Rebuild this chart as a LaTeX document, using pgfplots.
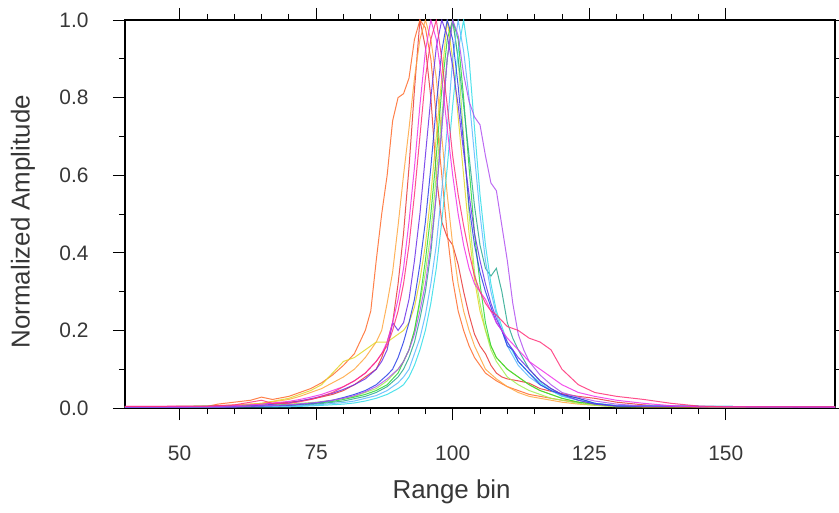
\documentclass[border=0pt]{standalone}
\usepackage{pgfplots}
\pgfplotsset{compat=1.18}
\usepackage{fontspec}
\setmainfont{Liberation Sans}
\definecolor{txt}{RGB}{55,55,55}
\definecolor{cRed}{RGB}{232,56,56}
\definecolor{cOrRed}{RGB}{255,106,42}
\definecolor{cOrange}{RGB}{255,166,64}
\definecolor{cYellow}{RGB}{226,214,40}
\definecolor{cLime}{RGB}{160,238,80}
\definecolor{cGreen}{RGB}{40,216,56}
\definecolor{cTeal}{RGB}{42,168,144}
\definecolor{cCyan}{RGB}{48,221,232}
\definecolor{cSky}{RGB}{90,184,255}
\definecolor{cBlue}{RGB}{42,64,232}
\definecolor{cIndigo}{RGB}{106,48,232}
\definecolor{cViolet}{RGB}{176,80,240}
\definecolor{cMagenta}{RGB}{240,48,232}
\definecolor{cPink}{RGB}{255,48,120}

\begin{document}
\begin{tikzpicture}
\begin{axis}[
  name=ax,
  scale only axis, width=710bp, height=388bp,
  xmin=40, xmax=170, ymin=0, ymax=1,
  xtick={50,75,100,125,150}, minor x tick num=4,
  ytick={0,0.2,0.4,0.6,0.8,1}, minor y tick num=1,
  tick align=outside, major tick length=12bp, minor tick length=6bp,
  every tick/.style={black, line width=0.8bp},
  axis line style={black, line width=1.2bp},
  /pgf/number format/assume math mode=true,
  ticklabel style={font=\fontsize{21}{24}\selectfont, text=txt},
  yticklabel style={/pgf/number format/fixed, /pgf/number format/fixed zerofill,
                    /pgf/number format/precision=1, xshift=-21bp},
  xticklabel style={yshift=-22bp},
  xlabel={Range bin}, ylabel={Normalized Amplitude},
  label style={font=\fontsize{26}{30}\selectfont, text=txt},
  xlabel style={at={([yshift=-68bp]axis description cs:0.46,0)}, anchor=north},
  ylabel style={at={([xshift=-102bp]axis description cs:0,0.48)}, anchor=center, rotate=0},
  every axis plot/.append style={line width=1bp, opacity=0.85},
]
% red
\addplot[cRed] coordinates {(40,0.002)(55,0.002)(60,0.005)(65,0.01)(70,0.015)(74,0.022)(78,0.035)(80,0.045)(82,0.06)(84,0.08)(85,0.09)(86,0.1)(87,0.13)(88,0.17)(89,0.22)(90,0.32)(91,0.45)(92,0.62)(93,0.82)(94,1.0)(95,0.93)(96,0.8)(97,0.6)(98,0.48)(99,0.44)(100,0.42)(101,0.37)(102,0.3)(103,0.24)(104,0.19)(105,0.16)(106,0.14)(107,0.11)(108,0.09)(109,0.08)(110,0.075)(112,0.07)(114,0.064)(116,0.05)(118,0.043)(120,0.037)(123,0.03)(126,0.025)(130,0.015)(135,0.008)(140,0.004)(150,0.002)(170,0.002)};
% orange-red with shoulder
\addplot[cOrRed] coordinates {(40,0.003)(50,0.003)(55,0.004)(57,0.01)(60,0.015)(63,0.02)(65,0.028)(67,0.022)(70,0.03)(72,0.04)(74,0.05)(76,0.065)(78,0.085)(80,0.11)(82,0.14)(83,0.17)(84,0.2)(85,0.25)(86,0.38)(87,0.5)(88,0.6)(89,0.74)(90,0.8)(91,0.81)(92,0.85)(93,0.95)(94,1.0)(95,0.98)(96,0.9)(97,0.75)(98,0.6)(99,0.45)(100,0.33)(101,0.25)(102,0.2)(103,0.16)(104,0.13)(105,0.11)(106,0.09)(108,0.07)(110,0.055)(112,0.045)(114,0.035)(116,0.03)(118,0.025)(120,0.02)(123,0.015)(126,0.01)(130,0.006)(135,0.003)(170,0.002)};
% orange
\addplot[cOrange] coordinates {(40,0.002)(55,0.004)(60,0.008)(65,0.012)(70,0.022)(72,0.03)(74,0.04)(76,0.05)(78,0.065)(80,0.08)(82,0.1)(84,0.13)(85,0.15)(86,0.17)(87,0.2)(88,0.27)(89,0.35)(90,0.47)(91,0.6)(92,0.72)(93,0.85)(94,0.95)(95,1.0)(96,0.95)(97,0.85)(98,0.7)(99,0.55)(100,0.42)(101,0.32)(102,0.25)(103,0.2)(104,0.16)(105,0.13)(106,0.1)(108,0.075)(110,0.055)(112,0.04)(114,0.03)(116,0.025)(118,0.02)(120,0.015)(123,0.01)(126,0.007)(130,0.004)(170,0.002)};
% yellow
\addplot[cYellow] coordinates {(40,0.002)(60,0.006)(65,0.012)(70,0.025)(72,0.035)(74,0.045)(76,0.06)(78,0.09)(80,0.12)(82,0.13)(84,0.15)(86,0.17)(88,0.17)(89,0.18)(90,0.19)(91,0.2)(92,0.22)(93,0.26)(94,0.33)(95,0.42)(96,0.55)(97,0.7)(98,0.85)(99,1.0)(100,0.9)(101,0.75)(102,0.6)(103,0.45)(104,0.33)(105,0.25)(106,0.2)(107,0.16)(108,0.13)(110,0.1)(112,0.08)(114,0.06)(116,0.045)(118,0.035)(120,0.025)(123,0.015)(126,0.01)(130,0.005)(170,0.002)};
% lime
\addplot[cLime] coordinates {(40,0.002)(60,0.004)(70,0.01)(75,0.015)(78,0.02)(80,0.025)(82,0.03)(84,0.04)(86,0.05)(88,0.07)(89,0.085)(90,0.1)(91,0.12)(92,0.15)(93,0.2)(94,0.27)(95,0.35)(96,0.45)(97,0.6)(98,0.75)(99,0.9)(100,1.0)(101,0.9)(102,0.7)(103,0.5)(104,0.35)(105,0.27)(106,0.2)(107,0.15)(108,0.12)(110,0.08)(112,0.06)(114,0.045)(116,0.035)(118,0.025)(120,0.02)(123,0.012)(126,0.007)(130,0.003)(170,0.002)};
% green
\addplot[cGreen] coordinates {(40,0.002)(70,0.008)(75,0.012)(78,0.017)(80,0.022)(82,0.028)(84,0.035)(86,0.045)(88,0.06)(89,0.075)(90,0.09)(91,0.12)(92,0.15)(93,0.2)(94,0.28)(95,0.38)(96,0.5)(97,0.65)(98,0.82)(99,0.95)(100,1.0)(101,0.95)(102,0.8)(103,0.62)(104,0.45)(105,0.32)(106,0.22)(107,0.16)(108,0.13)(110,0.1)(112,0.08)(114,0.06)(116,0.045)(118,0.035)(120,0.025)(123,0.015)(126,0.01)(130,0.005)(170,0.002)};
% teal
\addplot[cTeal] coordinates {(40,0.002)(70,0.006)(75,0.01)(80,0.018)(84,0.03)(86,0.04)(88,0.055)(90,0.08)(91,0.1)(92,0.13)(93,0.17)(94,0.23)(95,0.3)(96,0.4)(97,0.55)(98,0.72)(99,0.9)(100,1.0)(101,0.9)(102,0.78)(103,0.65)(104,0.52)(105,0.42)(106,0.36)(107,0.34)(108,0.36)(109,0.3)(110,0.22)(111,0.18)(112,0.15)(114,0.1)(116,0.07)(118,0.05)(120,0.035)(123,0.025)(126,0.012)(130,0.006)(170,0.002)};
% cyan
\addplot[cCyan] coordinates {(40,0.002)(70,0.003)(75,0.006)(80,0.01)(82,0.013)(84,0.018)(86,0.025)(88,0.035)(90,0.05)(91,0.06)(92,0.08)(93,0.11)(94,0.15)(95,0.2)(96,0.27)(97,0.36)(98,0.48)(99,0.62)(100,0.78)(101,0.92)(102,1.0)(103,0.9)(104,0.72)(105,0.55)(106,0.42)(107,0.32)(108,0.25)(110,0.17)(112,0.12)(114,0.09)(116,0.065)(118,0.045)(120,0.03)(123,0.02)(126,0.012)(130,0.006)(170,0.002)};
% sky blue
\addplot[cSky] coordinates {(40,0.002)(70,0.004)(75,0.008)(80,0.014)(82,0.018)(84,0.025)(86,0.032)(88,0.045)(90,0.065)(91,0.08)(92,0.1)(93,0.14)(94,0.18)(95,0.24)(96,0.32)(97,0.42)(98,0.56)(99,0.72)(100,0.9)(101,1.0)(102,0.92)(103,0.8)(104,0.65)(105,0.5)(106,0.38)(107,0.3)(108,0.24)(110,0.16)(112,0.11)(114,0.08)(116,0.06)(118,0.045)(120,0.032)(123,0.02)(126,0.012)(130,0.006)(170,0.002)};
% blue
\addplot[cBlue] coordinates {(40,0.002)(60,0.003)(70,0.007)(75,0.013)(78,0.02)(80,0.027)(82,0.035)(84,0.045)(86,0.06)(88,0.085)(89,0.1)(90,0.13)(91,0.17)(92,0.22)(93,0.28)(94,0.37)(95,0.48)(96,0.62)(97,0.78)(98,0.92)(99,1.0)(100,0.95)(101,0.83)(102,0.68)(103,0.52)(104,0.42)(105,0.35)(106,0.3)(107,0.26)(108,0.22)(109,0.2)(110,0.16)(111,0.15)(112,0.12)(114,0.09)(116,0.06)(118,0.045)(120,0.035)(123,0.025)(126,0.012)(130,0.005)(170,0.002)};
% indigo
\addplot[cIndigo] coordinates {(40,0.002)(60,0.003)(65,0.007)(70,0.013)(72,0.018)(75,0.027)(78,0.038)(80,0.048)(82,0.06)(84,0.075)(86,0.1)(87,0.12)(88,0.15)(89,0.22)(90,0.2)(91,0.22)(92,0.28)(93,0.38)(94,0.5)(95,0.65)(96,0.8)(97,0.93)(98,1.0)(99,0.96)(100,0.88)(101,0.78)(102,0.66)(103,0.55)(104,0.45)(105,0.38)(106,0.32)(107,0.27)(108,0.23)(110,0.17)(112,0.13)(114,0.1)(116,0.07)(118,0.05)(120,0.035)(123,0.02)(126,0.01)(130,0.005)(170,0.002)};
% violet, broad right shoulder
\addplot[cViolet] coordinates {(40,0.002)(60,0.003)(70,0.008)(75,0.014)(78,0.02)(80,0.025)(82,0.032)(84,0.042)(86,0.055)(88,0.075)(90,0.1)(91,0.12)(92,0.15)(93,0.19)(94,0.25)(95,0.32)(96,0.42)(97,0.55)(98,0.72)(99,0.9)(100,1.0)(101,0.96)(102,0.86)(103,0.79)(104,0.75)(105,0.73)(106,0.65)(107,0.58)(108,0.56)(109,0.47)(110,0.38)(111,0.27)(112,0.19)(113,0.15)(114,0.12)(116,0.085)(118,0.06)(120,0.04)(123,0.028)(126,0.018)(130,0.01)(135,0.005)(170,0.002)};
% magenta
\addplot[cMagenta] coordinates {(40,0.004)(50,0.004)(55,0.004)(60,0.006)(65,0.01)(70,0.017)(72,0.022)(74,0.028)(76,0.035)(78,0.045)(80,0.055)(82,0.07)(84,0.09)(86,0.12)(87,0.14)(88,0.17)(89,0.22)(90,0.28)(91,0.36)(92,0.48)(93,0.62)(94,0.78)(95,0.92)(96,1.0)(97,0.95)(98,0.85)(99,0.72)(100,0.6)(101,0.5)(102,0.42)(103,0.36)(104,0.32)(105,0.3)(106,0.28)(107,0.25)(108,0.22)(110,0.18)(112,0.15)(114,0.12)(116,0.1)(118,0.08)(120,0.06)(123,0.04)(126,0.03)(130,0.02)(135,0.012)(140,0.006)(145,0.003)(170,0.003)};
% pink, long tail
\addplot[cPink] coordinates {(40,0.004)(55,0.005)(60,0.008)(63,0.015)(65,0.02)(67,0.012)(70,0.012)(72,0.016)(74,0.022)(76,0.03)(78,0.04)(80,0.055)(82,0.07)(84,0.09)(86,0.12)(88,0.16)(89,0.2)(90,0.25)(91,0.32)(92,0.42)(93,0.55)(94,0.7)(95,0.85)(96,0.95)(97,1.0)(98,0.9)(99,0.78)(100,0.65)(101,0.55)(102,0.47)(103,0.4)(104,0.34)(105,0.3)(106,0.27)(107,0.25)(108,0.24)(110,0.21)(112,0.2)(114,0.18)(116,0.17)(118,0.15)(120,0.1)(123,0.06)(126,0.04)(130,0.03)(135,0.022)(140,0.012)(145,0.005)(150,0.003)(170,0.003)};
\end{axis}
\pgfresetboundingbox
\path ([shift={(-125bp,-105bp)}]ax.south west) rectangle ([shift={(4bp,20bp)}]ax.north east);
\end{tikzpicture}
\end{document}
